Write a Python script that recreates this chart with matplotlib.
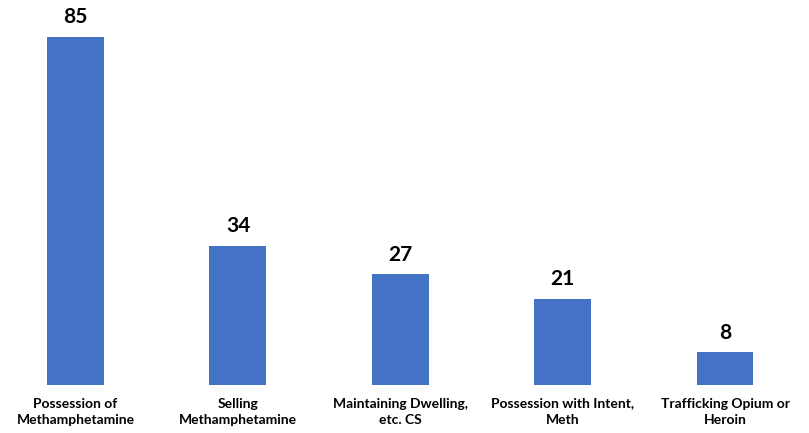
import matplotlib.pyplot as plt

categories = ['Possession of\nMethamphetamine', 'Selling\nMethamphetamine',
              'Maintaining Dwelling,\netc. CS', 'Possession with Intent,\nMeth',
              'Trafficking Opium or\nHeroin']
values = [85, 34, 27, 21, 8]

plt.rcParams['font.family'] = ['Lato', 'DejaVu Sans']

fig = plt.figure(figsize=(8.09, 4.33), dpi=100)
# axes spans full width, bottom at baseline (y=385 px)
ax = fig.add_axes([0, 48 / 433, 1, 385 / 433])

x = range(len(values))
bars = ax.bar(x, values, width=0.35, color='#4472C4')

for xi, v in zip(x, values):
    ax.annotate(str(v), (xi, v), xytext=(0, 7), textcoords='offset points',
                ha='center', va='bottom', fontsize=15, fontweight='bold')

ax.set_xlim(-0.465, 4.517)
ax.set_ylim(0, 94)
ax.set_xticks(list(x))
ax.set_xticklabels(categories, fontsize=10, fontweight='bold', linespacing=1.5)
ax.tick_params(axis='x', length=0, pad=9)
ax.set_yticks([])
for s in ax.spines.values():
    s.set_visible(False)

fig.savefig('out.png', dpi=100)
